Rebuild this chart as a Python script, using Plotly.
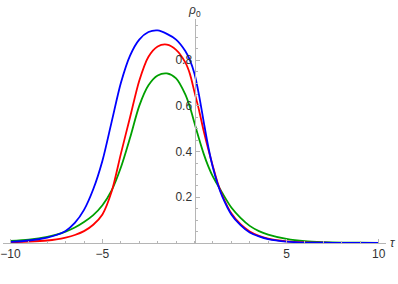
import plotly.graph_objects as go

tau = [-10, -9, -8, -7.5, -7, -6.5, -6, -5.5, -5, -4.5, -4, -3.5, -3, -2.5, -2, -1.5, -1, -0.5, -0.25,
       0, 0.25, 0.5, 0.75, 1, 1.25, 1.5, 2, 2.5, 3, 3.5, 4, 5, 6, 7, 8, 9, 10]
rho_blue = [0.005, 0.011, 0.024, 0.035, 0.053, 0.088, 0.145, 0.235, 0.36, 0.53, 0.70, 0.82, 0.89, 0.923, 0.93,
            0.915, 0.89, 0.84, 0.80, 0.74, 0.645, 0.53, 0.42, 0.33, 0.26, 0.205, 0.125, 0.078, 0.046,
            0.029, 0.017, 0.006, 0.002, 0.001, 0.0004, 0.0002, 0.0001]
rho_red = [0.003, 0.006, 0.011, 0.016, 0.024, 0.035, 0.052, 0.08, 0.125, 0.225, 0.39, 0.55, 0.71, 0.815, 0.86,
           0.868, 0.845, 0.79, 0.74, 0.66, 0.58, 0.49, 0.41, 0.335, 0.265, 0.21, 0.13, 0.082, 0.05,
           0.031, 0.019, 0.007, 0.0025, 0.001, 0.0004, 0.0002, 0.0001]
rho_green = [0.009, 0.015, 0.027, 0.037, 0.050, 0.068, 0.092, 0.122, 0.165, 0.23, 0.33, 0.46, 0.60, 0.69, 0.733,
             0.742, 0.72, 0.65, 0.595, 0.525, 0.455, 0.39, 0.335, 0.29, 0.255, 0.22, 0.155, 0.11, 0.075,
             0.052, 0.037, 0.018, 0.008, 0.004, 0.002, 0.001, 0.0005]

x_ticks = [-10, -5, 5, 10]
y_ticks = [0.2, 0.4, 0.6, 0.8]

fig = go.Figure()
for ys, col in [(rho_green, "#00a000"), (rho_red, "#ff0000"), (rho_blue, "#0000ff")]:
    fig.add_trace(go.Scatter(x=tau, y=ys, mode="lines",
                             line=dict(color=col, width=1.8, shape="spline", smoothing=0.8),
                             showlegend=False, hoverinfo="skip"))

axis_col = "#b5b5b5"
font = dict(family="Liberation Sans, Arial, sans-serif", size=12, color="#333333")

fig.update_layout(
    width=398, height=284,
    margin=dict(l=3, r=12, t=19, b=41, autoexpand=False),
    paper_bgcolor="white", plot_bgcolor="white",
    font=font,
    xaxis=dict(range=[-10.4, 10.4], showgrid=False, zeroline=False,
               showline=True, linecolor=axis_col, linewidth=1,
               tickvals=x_ticks, ticks="inside", ticklen=4, tickcolor=axis_col,
               minor=dict(dtick=1, tick0=0, ticks="inside", ticklen=2, tickcolor=axis_col),
               tickfont=font, automargin=False),
    yaxis=dict(range=[0, 0.98], showgrid=False, zeroline=False,
               showline=True, linecolor=axis_col, linewidth=1,
               anchor="free", position=0.5, side="left",
               tickvals=y_ticks, ticks="inside", ticklen=4, tickcolor=axis_col,
               minor=dict(dtick=0.05, tick0=0, ticks="inside", ticklen=2, tickcolor=axis_col),
               tickfont=font, automargin=False),
    annotations=[
        dict(text="<i>ρ</i><sub>0</sub>", x=0, xref="x", y=1.0, yref="paper",
             xanchor="center", yanchor="bottom", showarrow=False, yshift=-2,
             font=dict(family="Liberation Sans, Arial, sans-serif", size=12, color="#333333")),
        dict(text="<i>τ</i>", x=1.0, xref="paper", y=0, yref="y",
             xanchor="left", yanchor="middle", showarrow=False, xshift=2,
             font=dict(family="Liberation Sans, Arial, sans-serif", size=12, color="#333333")),
    ],
)

fig.write_html("out.html", config={"displayModeBar": False, "staticPlot": True},
               post_script="document.body.style.margin='0px';")
